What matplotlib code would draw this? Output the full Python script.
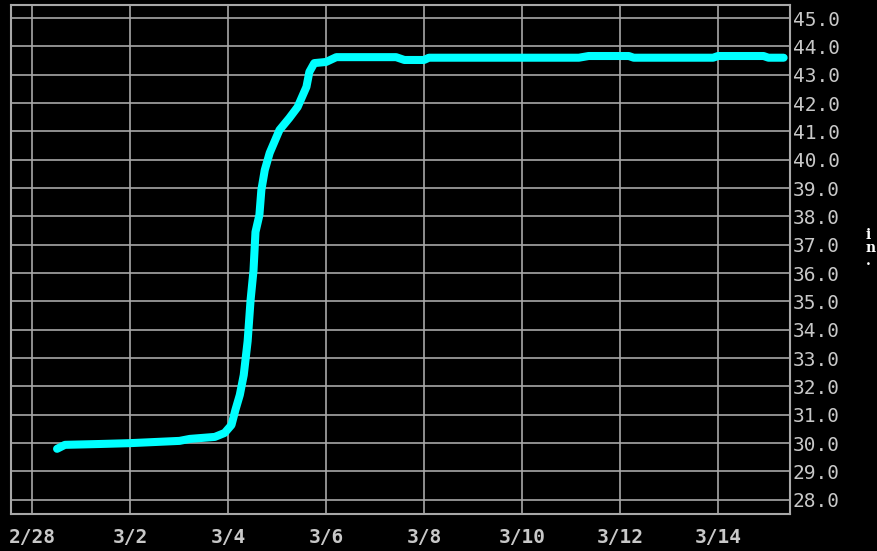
# -*- coding: utf-8 -*-
"""Single-series time plot, black background, right-hand value axis."""
import numpy as np, matplotlib; matplotlib.use('Agg'); import matplotlib.pyplot as plt

# days counted from 2/28 (non-leap year: 3/1 = day 1)
days = [0.51, 0.67, 1.38, 2.0, 3.01, 3.22, 3.73, 3.93, 4.07, 4.15, 4.24, 4.32, 4.40, 4.46,
        4.52, 4.56, 4.64, 4.68, 4.75, 4.85, 5.05, 5.25, 5.42, 5.60, 5.66, 5.76, 6.0, 6.21,
        7.43, 7.60, 8.0, 8.10, 11.16, 11.36, 12.18, 12.28, 13.9, 14.0, 14.93, 15.03, 15.34]
values = [29.80, 29.94, 29.97, 30.0, 30.08, 30.15, 30.22, 30.36, 30.64, 31.17, 31.70, 32.4, 33.6, 35.05,
          36.1, 37.45, 38.05, 38.93, 39.64, 40.24, 41.05, 41.47, 41.86, 42.57, 43.1, 43.41, 43.45, 43.62,
          43.62, 43.52, 43.52, 43.60, 43.60, 43.66, 43.66, 43.60, 43.60, 43.66, 43.66, 43.60, 43.60]
xticks = [0, 2, 4, 6, 8, 10, 12, 14]
xticklabels = ['2/28', '3/2', '3/4', '3/6', '3/8', '3/10', '3/12', '3/14']
yticks = np.arange(28, 46, 1)

grid_c = '#a8a8a8'; txt_c = '#c8c8c8'
fig = plt.figure(figsize=(8.77, 5.51), dpi=100, facecolor='black')
ax = fig.add_axes([11/877, 37/551, 779/877, 509/551], facecolor='black')
ax.plot(days, values, color='#00ffff', lw=5.8, solid_capstyle='round', solid_joinstyle='round', zorder=3)
ax.set_xlim(-0.43, 15.47); ax.set_ylim(27.5, 45.46)
ax.set_xticks(xticks); ax.set_xticklabels(xticklabels)
ax.set_yticks(yticks); ax.set_yticklabels([f'{v:.1f}' for v in yticks])
ax.yaxis.tick_right()
ax.tick_params(axis='both', length=0, colors=txt_c, labelsize=14)
ax.tick_params(axis='x', pad=10); ax.tick_params(axis='y', pad=2)
for t in ax.get_xticklabels() + ax.get_yticklabels():
    t.set_family('DejaVu Sans Mono')
for t in ax.get_xticklabels(): t.set_fontweight('bold')
ax.grid(True, color=grid_c, lw=1.2, zorder=1)
for s in ax.spines.values(): s.set_color(grid_c); s.set_linewidth(1.5)
# units label stacked letter by letter at the right edge
fig.text(866/877, 1-248/551, 'i\nn\n.', color='white', family='DejaVu Serif', fontweight='bold',
         fontsize=10, ha='left', va='center', linespacing=0.95)
plt.savefig('out.png', dpi=100, facecolor='black')
